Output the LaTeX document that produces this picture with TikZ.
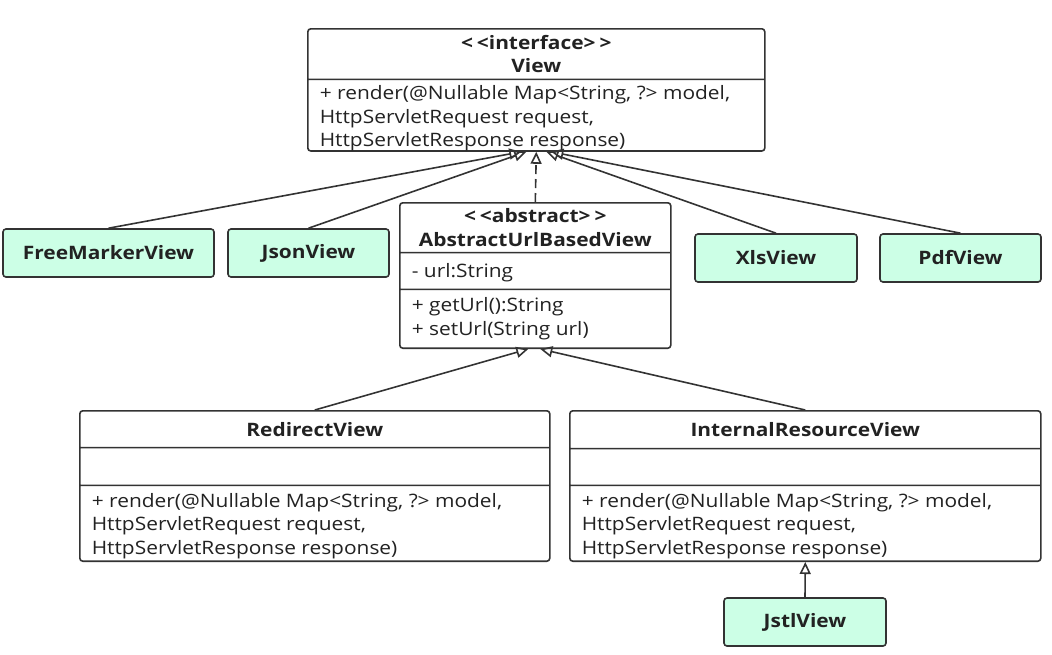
\documentclass[tikz,border=0pt]{standalone}
\usepackage{fontspec}
\setmainfont{Open Sans}[FakeStretch=1.13]
\usetikzlibrary{shapes.multipart,arrows.meta}
\definecolor{umlline}{HTML}{333333}
\definecolor{umlgreen}{HTML}{CCFFE6}
\definecolor{umltext}{HTML}{222222}
% header and body compartments of a class box (width, height, text)
\newcommand{\headpart}[3]{\parbox[c][#2pt][c]{#1pt}{\centering\bfseries #3}}
\newcommand{\bodypart}[4][0]{\parbox[c][#3pt][c]{#2pt}{\raggedright\vspace*{#1pt}#4}}
\begin{document}
\begin{tikzpicture}[x=1pt,y=-1pt,
  font=\fontsize{18.5}{23.5}\selectfont,
  every node/.style={text=umltext},
  umlclass/.style={draw=umlline, line width=1.6pt, rounded corners=3pt, fill=white,
    rectangle split, rectangle split parts=#1, inner xsep=12pt, inner ysep=0pt,
    anchor=north west},
  umlleaf/.style={draw=umlline, line width=1.6pt, rounded corners=3pt, fill=umlgreen,
    minimum width=#1, minimum height=48pt, inner sep=0pt,
    font=\fontsize{18.5}{23.5}\selectfont\bfseries},
  extends/.style={draw=umlline, line width=1.6pt, -{Triangle[open,length=12pt,width=11pt]}},
  implements/.style={extends, dash pattern=on 9pt off 5pt}]
\fill[white] (0,0) rectangle (1052,654);
\useasboundingbox (0,0) rectangle (1052,654);

% interface
\node[umlclass=2] (view) at (307,28)
  {\headpart{433}{49}{<\kern4pt<interface>\kern4pt>\\View}
   \nodepart{two}\bodypart[6]{433}{70}{+ render(@Nullable Map<String, ?> model,\\
     HttpServletRequest request,\\ HttpServletResponse response)}};

% abstract class
\node[umlclass=3] (abstracturl) at (399,202)
  {\headpart{247}{48.2}{<\kern4pt<abstract>\kern4pt>\\AbstractUrlBasedView}
   \nodepart{two}\bodypart[4]{247}{35.2}{- url:String}
   \nodepart{three}\bodypart{247}{57.2}{+ getUrl():String\\ + setUrl(String url)}};

% concrete views
\node[umlleaf=211pt] (freemarker) at (108.5,253) {FreeMarkerView};
\node[umlleaf=161pt] (json) at (308.5,253) {JsonView};
\node[umlleaf=162pt] (xls) at (776,258) {XlsView};
\node[umlleaf=161pt] (pdf) at (960.5,258) {PdfView};

\node[umlclass=3] (redirect) at (79,410)
  {\headpart{446}{35.2}{RedirectView}
   \nodepart{two}\bodypart{446}{36.2}{}
   \nodepart{three}\bodypart[5]{446}{74.2}{+ render(@Nullable Map<String, ?> model,\\
     HttpServletRequest request,\\ HttpServletResponse response)}};
\node[umlclass=3] (internal) at (569,410)
  {\headpart{447}{36.2}{InternalResourceView}
   \nodepart{two}\bodypart{447}{35.2}{}
   \nodepart{three}\bodypart[5]{447}{74.2}{+ render(@Nullable Map<String, ?> model,\\
     HttpServletRequest request,\\ HttpServletResponse response)}};
\node[umlleaf=162pt] (jstl) at (805,622) {JstlView};

% generalization
\draw[extends] (freemarker.north) -- ([xshift=-15pt]view.south);
\draw[extends] (json.north) -- ([xshift=-10pt]view.south);
\draw[implements] (abstracturl.north) -- (view.south);
\draw[extends] (xls.north) -- ([xshift=10pt]view.south);
\draw[extends] (pdf.north) -- ([xshift=15pt]view.south);
\draw[extends] (redirect.north) -- ([xshift=-7pt]abstracturl.south);
\draw[extends] (internal.north) -- ([xshift=5pt]abstracturl.south);
\draw[extends] (jstl.north) -- (internal.south);
\end{tikzpicture}
\end{document}
